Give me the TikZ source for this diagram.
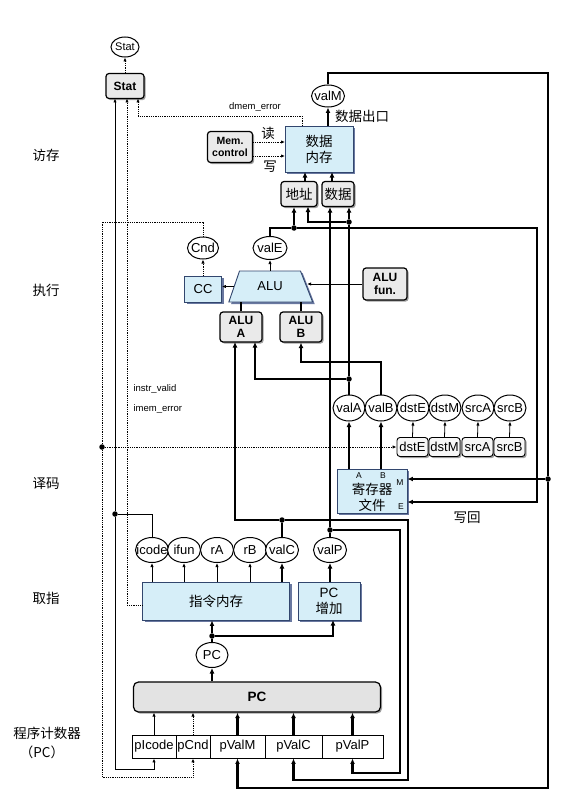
\documentclass[tikz,border=0pt]{standalone}
\usepackage{fontspec}
\setmainfont{Liberation Sans}
\newfontfamily\cjk{Noto Sans CJK SC}
\usetikzlibrary{shapes.geometric,arrows.meta,shadows}
\definecolor{bfill}{RGB}{214,238,248}
\definecolor{bdraw}{RGB}{50,70,110}
\definecolor{bshadow}{RGB}{105,120,160}
\definecolor{gfill}{RGB}{234,234,234}
\begin{document}
\begin{tikzpicture}[x=1pt,y=-1pt,
  every node/.style={font=\fontsize{13}{14}\selectfont},
  ell/.style={ellipse,draw,line width=1pt,fill=white,inner sep=0pt,minimum width=32pt,minimum height=25pt},
  gbox/.style={draw,line width=1.2pt,rounded corners=3pt,fill=gfill,inner sep=0pt,align=center,
     drop shadow={shadow xshift=1.6pt,shadow yshift=-1.6pt,fill=gray!75,opacity=1}},
  bbox/.style={draw=bdraw,line width=0.9pt,fill=bfill,inner sep=0pt,align=center,
     drop shadow={shadow xshift=2.2pt,shadow yshift=-2.2pt,fill=bshadow,opacity=1}},
  wbox/.style={draw,line width=0.9pt,fill=white,inner sep=0pt,minimum height=23pt,font=\fontsize{13}{14}\selectfont},
  bus/.style={line width=2.2pt},
  sig/.style={line width=0.8pt},
  ctl/.style={line width=0.9pt,dash pattern=on 0.9pt off 0.9pt},
  arb/.style={-{Latex[length=5.5pt,width=5pt]}},
  ars/.style={-{Latex[length=4pt,width=3.4pt]}},
  dot/.style={circle,fill,inner sep=0pt,minimum size=5.5pt},
  bfb/.style={font=\bfseries\fontsize{12}{12.5}\selectfont},
  zh/.style={font=\cjk\fontsize{13.5}{16}\selectfont},
  lbl/.style={font=\fontsize{9.5}{11}\selectfont},
]
\useasboundingbox (0,0) rectangle (577,797);

% stage labels
\node[zh] (lMem) at (46,155) {访存};
\node[zh] (lExe) at (46,290) {执行};
\node[zh] (lDec) at (46,484) {译码};
\node[zh] (lFet) at (46,598) {取指};
\node[zh] (lPC1) at (47,733) {程序计数器};
\node[zh] (lPC2) at (42,752) {（PC）};

% ---- nodes ----
\node[ell,minimum width=28pt,minimum height=20pt,font=\fontsize{11}{12}\selectfont] (statO) at (125,47) {\makebox[0pt]{Stat}};
\node[gbox,bfb,minimum width=38pt,minimum height=25pt] (statB) at (125,86) {Stat};

\node[bbox,zh,minimum width=68pt,minimum height=46pt] (dmem) at (319,149) {数据\\内存};
\node[gbox,font=\bfseries\fontsize{10.5}{12}\selectfont,minimum width=45pt,minimum height=31pt] (memctl) at (230,147) {Mem.\\control};
\node[gbox,zh,minimum width=36pt,minimum height=25pt] (addr) at (299,194) {地址};
\node[gbox,zh,minimum width=32pt,minimum height=25pt] (data) at (338,194) {数据};
\node[ell,minimum width=33pt,minimum height=22pt] (valM) at (328,96) {\makebox[0pt]{valM}};

\node[ell,minimum width=31pt,minimum height=22pt] (Cnd) at (203,248) {\makebox[0pt]{Cnd}};
\node[ell,minimum width=34pt,minimum height=23pt] (valE) at (270,248) {\makebox[0pt]{valE}};
\node[bbox,minimum width=37pt,minimum height=26pt] (CC) at (203,289) {CC};
\node[bbox,trapezium,trapezium left angle=64,trapezium right angle=61,trapezium stretches=true,minimum width=84pt,minimum height=31pt] (alu) at (270,286.5) {ALU};
\node[gbox,bfb,minimum width=44pt,minimum height=32pt] (alufun) at (385,284) {ALU\\fun.};
\node[gbox,bfb,minimum width=42pt,minimum height=30pt] (aluA) at (241,327) {ALU\\A};
\node[gbox,bfb,minimum width=42pt,minimum height=30pt] (aluB) at (301,327) {ALU\\B};

\foreach \n/\x in {valA/349,valB/381,dstE/413,dstM/445,srcA/478,srcB/510}
  \node[ell,minimum height=26pt] (\n) at (\x,408) {\makebox[0pt]{\n}};
\foreach \n/\x in {dstE/412.5,dstM/444.5,srcA/477.5,srcB/509.5}
  \node[gbox,line width=0.9pt,fill=gray!6,minimum width=31pt,minimum height=19pt] (b\n) at (\x,447) {\n};

\node[bbox,minimum width=70pt,minimum height=44pt] (rf) at (372,491) {};
\node[zh,align=center] (rfT) at (372,497) {寄存器\\文件};
\node[font=\fontsize{8.5}{9}\selectfont] (rfA) at (359,476) {A};
\node[font=\fontsize{8.5}{9}\selectfont] (rfB) at (383,476) {B};
\node[font=\fontsize{8.5}{9}\selectfont] (rfM) at (400,483) {M};
\node[font=\fontsize{8.5}{9}\selectfont] (rfE) at (401,507) {E};

\foreach \n/\x in {icode/152,ifun/184,rA/217,rB/250,valC/282,valP/330}
  \node[ell,minimum width=33pt] (\n) at (\x,550) {\makebox[0pt]{\n}};
\node[bbox,zh,minimum width=147pt,minimum height=38pt] (imem) at (216,601) {指令内存};
\node[bbox,minimum width=62pt,minimum height=38pt,font=\fontsize{13.5}{16}\selectfont] (pcinc) at (329,601) {PC\\{\cjk 增加}};
\node[ell] (pcE) at (212,655) {\makebox[0pt]{PC}};
\node[gbox,font=\bfseries\fontsize{13.5}{14}\selectfont,minimum width=247pt,minimum height=30pt,rounded corners=5pt,fill=gray!22] (pcR) at (257,697) {PC};

\node[wbox,minimum width=44pt] (pIcode) at (154,746.5) {pIcode};
\node[wbox,minimum width=34pt] (pCnd) at (193,746.5) {pCnd};
\node[wbox,minimum width=55pt] (pValM) at (237.5,746.5) {pValM};
\node[wbox,minimum width=57pt] (pValC) at (293.5,746.5) {pValC};
\node[wbox,minimum width=61pt] (pValP) at (352.5,746.5) {pValP};

% text labels
\node[zh] (rd) at (268,133) {读};
\node[zh] (wr) at (270,167) {写};
\node[zh] (dout) at (362,116) {数据出口};
\node[lbl] (dme) at (255,107) {dmem\_error};
\node[lbl,anchor=west] (iv) at (130,389) {instr\_valid};
\node[lbl,anchor=west] (ime) at (130,409) {imem\_error};
\node[zh] (wb) at (467,518) {写回};

% ---- ports & junctions ----
\coordinate (statIn1) at (115,98.5);
\coordinate (statIn2) at (127,98.5);
\coordinate (statIn3) at (138,98.5);
\coordinate (deT) at (302,126);
\coordinate (deK) at (138,116);
\coordinate (ivS) at (142.5,605);
\coordinate (iB) at (115,769);
\coordinate (cT) at (102,222);
\coordinate (cB) at (102,777);
\coordinate (rdP) at (285,142);
\coordinate (wrP) at (285,156);
\coordinate (dmIn1) at (305,172);
\coordinate (dmIn2) at (332,172);
\coordinate (vmT) at (548,73);
\coordinate (vmB) at (548,788);
\coordinate (veT) at (537,228);
\coordinate (veB) at (537,502);
\coordinate (addrIn2) at (308,206.5);
\coordinate (aluAin1) at (235,342);
\coordinate (aluAin2) at (255,342);
\coordinate (vbK) at (381,362);
\coordinate (vpB) at (400,773);
\coordinate (vcB) at (408,780);
\coordinate (pcincIn) at (333,620);

\node[dot] (jI) at (115,514) {};
\node[dot] (jCnd) at (102,447) {};
\node[dot] (jM) at (548,479) {};
\node[dot] (jE) at (294,228) {};
\node[dot] (jA1) at (349,222) {};
\node[dot] (jA2) at (349,379) {};
\node[dot] (jP) at (330,530) {};
\node[dot] (jC) at (282,520) {};
\node[dot] (jPC) at (212,636) {};

% ---- connectors ----
\draw[ctl,ars] (statB.north) -- (statO.south);
\draw[ctl,ars] (deT) |- (deK) -- (statIn3);
\draw[ctl,ars] (ivS) -| (statIn2);
\draw[sig] (icode.north) |- (jI);
\draw[sig,ars] (jI) -- (statIn1);
\draw[sig,ars] (jI) -- (iB) -| (pIcode.south);

\draw[ctl] (Cnd.north) |- (cT) -- (jCnd);
\draw[ctl,ars] (jCnd) -- (cB) -| (pCnd.south);
\draw[ctl,ars] (jCnd) -- (bdstE.west);

\draw[ctl,ars] (CC.north) -- (Cnd.south);
\draw[sig,ars] (alu.west) -- (CC.east |- alu.west);
\draw[sig,ars] (alufun.west) -- (alu.east |- alufun.west);
\draw[sig,ars] (alu.north -| valE) -- (valE.south);
\draw[bus] (aluA.north) -- (aluA.north |- alu.south);
\draw[bus] (aluB.north) -- (aluB.north |- alu.south);

\draw[ctl,ars] (memctl.east |- rdP) -- (rdP);
\draw[ctl,ars] (memctl.east |- wrP) -- (wrP);
\draw[bus,arb] (addr.north -| dmIn1) -- (dmIn1);
\draw[bus,arb] (data.north -| dmIn2) -- (dmIn2);
\draw[bus,arb] (dmem.north -| valM) -- (valM.south);

\draw[bus] (valM.north) |- (vmT) -- (jM);
\draw[bus,arb] (jM) -- (vmB) -| (pValM.south);
\draw[bus,arb] (jM) -- (rf.east |- jM);

\draw[bus] (valE.north) |- (jE);
\draw[bus,arb] (jE) -- (veT) -- (veB) -- (rf.east |- veB);
\draw[bus,arb] (jE) -- (addr.south -| jE);

\draw[bus] (valA.north) -- (jA2);
\draw[bus] (jA2) -- (jA1);
\draw[bus,arb] (jA1) -- (data.south -| jA1);
\draw[bus,arb] (jA1) -| (addrIn2);
\draw[bus,arb] (jA2) -| (aluAin2);

\draw[bus,arb] (valB.north) -- (vbK) -| (aluB.south);

\draw[bus] (valP.north) -- (jP);
\draw[bus,arb] (jP) -- (data.south -| jP);
\draw[bus,arb] (jP) -| (vpB) -| (pValP.south);

\draw[bus] (valC.north) -- (jC);
\draw[bus,arb] (jC) -| (aluAin1);
\draw[bus,arb] (jC) -| (vcB) -| (pValC.south);

\foreach \n in {icode,ifun,rA,rB} \draw[sig,ars] (imem.north -| \n) -- (\n.south);
\draw[bus,arb] (imem.north -| valC) -- (valC.south);
\draw[bus,arb] (pcinc.north -| valP) -- (valP.south);

\draw[bus,arb] (rf.north -| valA) -- (valA.south);
\draw[bus,arb] (rf.north -| valB) -- (valB.south);
\foreach \n in {dstE,dstM,srcA,srcB} \draw[sig,ars] (b\n.north) -- (\n.south);

\draw[bus,arb] (pcR.north -| pcE) -- (pcE.south);
\draw[bus] (pcE.north) -- (jPC);
\draw[bus,arb] (jPC) -- (imem.south -| jPC);
\draw[bus,arb] (jPC) -| (pcincIn);

\draw[sig,ars] (pIcode.north) -- (pcR.south -| pIcode.north);
\draw[ctl,ars] (pCnd.north) -- (pcR.south -| pCnd.north);
\foreach \n in {pValM,pValC,pValP} \draw[bus,arb] (\n.north) -- (pcR.south -| \n.north);
\end{tikzpicture}
\end{document}
